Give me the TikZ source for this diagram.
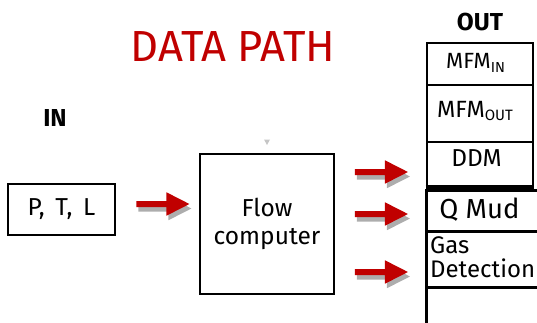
\documentclass[tikz,border=0pt]{standalone}
\usepackage{fontspec}
\setmainfont{Fira Sans}
\usetikzlibrary{shapes.arrows,shadows}
\definecolor{pathred}{HTML}{C00000}
\tikzset{
    box/.style={draw, line width=2.6pt, inner sep=0pt},
    lbl/.style={inner sep=0pt, font=\fontsize{24.5}{28}\selectfont},
    headlbl/.style={inner sep=0pt, font=\bfseries\fontsize{24.5}{28}\selectfont},
    bigarrow/.style={single arrow, fill=pathred, draw=none,
        minimum height=53pt, minimum width=23pt, inner sep=2.8pt,
        single arrow head extend=8.7pt, single arrow tip angle=54,
        drop shadow={shadow xshift=2pt, shadow yshift=-4.5pt, fill=gray!75, opacity=0.85}}
}

\begin{document}
\begin{tikzpicture}[x=1pt, y=-1pt]
                        \clip (0, 0) rectangle (537, 322);

                        % title and headings
                        \node[inner sep=0pt, text=pathred, font=\fontsize{43.5}{44}\selectfont] (title) at (233, 47) {DATA PATH};
                        \node[headlbl] (outlbl) at (480, 22) {OUT};
                        \node[headlbl] (inlbl) at (55, 118.5) {IN};

                        % input and computer
                        \node[box, lbl, minimum width=107pt, minimum height=51pt] (ptl) at (61.5, 209.5) {P,\, T,\, L};
                        \node[box, lbl, align=center, minimum width=134pt, minimum height=140pt] (flow) at (267, 224) {Flow\\computer};
                        \fill[gray!45] (264, 139.5) -- (270, 139.5) -- (267, 145) -- cycle;

                        % output cells, upper stack
                        \node[box, minimum width=106pt, minimum height=42pt] (mfmin) at (480, 64) {};
                        \node[box, minimum width=106pt, minimum height=57pt] (mfmout) at (480, 113.5) {};
                        \node[box, minimum width=106pt, minimum height=44pt] (ddm) at (480, 164) {};
                        \draw[line width=4pt] (ddm.south west) -- (ddm.south east);

                        \node[lbl, anchor=base west, font=\fontsize{22}{24}\selectfont] (mfminlbl) at (446, 68)
                            {MFM\raisebox{-4pt}{\fontsize{14.5}{15}\selectfont IN}};
                        \node[lbl, anchor=base west, font=\fontsize{23.5}{24}\selectfont] (mfmoutlbl) at (437, 117)
                            {MFM\raisebox{-3.5pt}{\fontsize{15}{16}\selectfont OUT}};
                        \node[lbl, anchor=base] (ddmlbl) at (476.5, 166) {DDM};

                        % output cells, lower stack (runs off the page)
                        \node[box, anchor=north west, minimum width=130pt, minimum height=41pt] (qmud) at (425, 189) {};
                        \node[box, anchor=north west, minimum width=130pt, minimum height=56pt] (gas) at (425, 230) {};
                        \node[box, anchor=north west, minimum width=130pt, minimum height=60pt] (spare) at (425, 286) {};

                        \node[lbl, anchor=base, font=\fontsize{27.5}{30}\selectfont] (qmudlbl) at (479.5, 218) {Q Mud};
                        \node[lbl, anchor=north west, align=left, font=\fontsize{24}{24}\selectfont] (gaslbl) at (430, 236.5) {Gas\\Detection};

                        % block arrows
                        \node[bigarrow] (ain) at (160, 204) {};
                        \node[bigarrow] (aout1) at (378.5, 172) {};
                        \node[bigarrow] (aout2) at (378.5, 214) {};
                        \node[bigarrow] (aout3) at (378.5, 272) {};
                    \end{tikzpicture}
\end{document}
